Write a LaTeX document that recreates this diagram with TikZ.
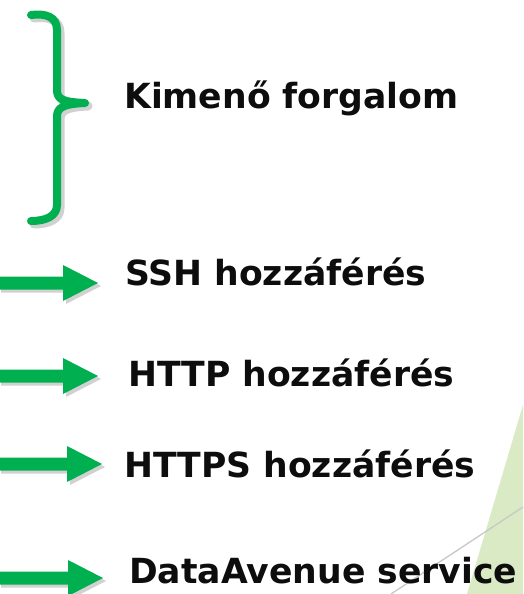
\documentclass[tikz,border=0pt]{standalone}
\usepackage{fontspec}
\setmainfont{DejaVu Sans}
\definecolor{brgreen}{RGB}{0,176,80}
\definecolor{palegreen}{RGB}{217,234,196}
\definecolor{thinline}{RGB}{200,200,200}
\begin{document}
\begin{tikzpicture}[x=1pt,y=-1pt,
  lbl/.style={anchor=base west,inner sep=0pt,font=\fontsize{34.6}{40}\selectfont\bfseries,text=black!95},
  bracepath/.style={draw=brgreen,line width=8pt,line cap=round,line join=round},
  shadowpath/.style={draw=black,opacity=0.18,line width=9pt,line cap=round,line join=round},
  arrowfill/.style={fill=brgreen},
  arrowshadow/.style={fill=black,opacity=0.18}]
\useasboundingbox (0,0) rectangle (523,594);
\fill[white] (0,0) rectangle (523,594);
% background decoration
\fill[palegreen] (523,405) -- (467,594) -- (523,594) -- cycle;
\draw[thinline,line width=1.3pt] (391,594) -- (523,507);
% brace
\def\bracecurve{(31,15) .. controls (46,13) and (57,17) .. (57,30) -- (57,90) .. controls (57,99) and (62,102) .. (85,103) .. controls (62,104) and (57,108) .. (57,117) -- (57,205) .. controls (57,216) and (46,221) .. (31,221)}
\draw[shadowpath,xshift=3pt,yshift=-3pt] \bracecurve;
\draw[bracepath] \bracecurve;
% arrows
\foreach \yy/\tip in {283/98,376/98,464/102,578/103}{
  \pgfmathsetmacro{\hb}{\tip-35}
  \fill[arrowshadow,xshift=3pt,yshift=-3pt] (-2,\yy-6.5) -- (\hb,\yy-6.5) -- (\hb,\yy-18) -- (\tip,\yy) -- (\hb,\yy+18) -- (\hb,\yy+6.5) -- (-2,\yy+6.5) -- cycle;
  \fill[arrowfill] (-2,\yy-6.5) -- (\hb,\yy-6.5) -- (\hb,\yy-18) -- (\tip,\yy) -- (\hb,\yy+18) -- (\hb,\yy+6.5) -- (-2,\yy+6.5) -- cycle;
}
% labels
\node[lbl] (out) at (124,108) {Kimenő forgalom};
\node[lbl] (ssh) at (125,285) {SSH hozzáférés};
\node[lbl] (http) at (128,386) {HTTP hozzáférés};
\node[lbl] (https) at (124,477) {HTTPS hozzáférés};
\node[lbl] (da) at (129,583) {DataAvenue service};
\end{tikzpicture}
\end{document}
